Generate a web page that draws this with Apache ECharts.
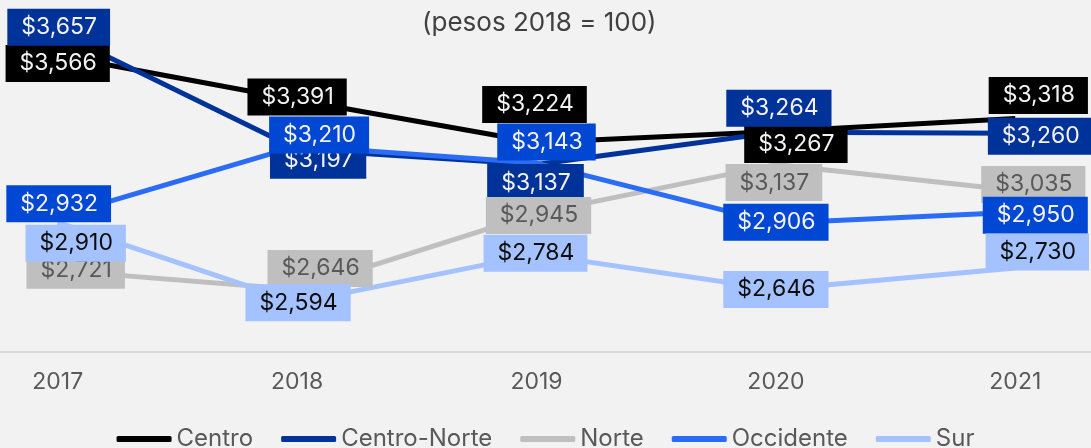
<!DOCTYPE html>
<html>
<head>
<meta charset="utf-8">
<script src="https://cdn.jsdelivr.net/npm/echarts@6/dist/echarts.min.js"></script>
<style>
  html, body { margin: 0; padding: 0; background: #f2f2f2; }
  #chart { width: 1091px; height: 448px; }
</style>
</head>
<body>
<div id="chart"></div>
<script>
// categorias y valores (pesos 2018 = 100)
const years = ['2017', '2018', '2019', '2020', '2021'];
const centro = [3566, 3391, 3224, 3267, 3318];
const centroNorte = [3657, 3197, 3137, 3264, 3260];
const norte = [2721, 2646, 2945, 3137, 3035];
const occidente = [2932, 3210, 3143, 2906, 2950];
const sur = [2910, 2594, 2784, 2646, 2730];

// desplazamiento de las etiquetas para que no se encimen
const labelShift = {
  Centro: [[0, 8], [0, -3], [-2, -38], [20, 13], [23, -23]],
  'Centro-Norte': [[1, -5], [21, 11], [-1, 18], [3, -24], [25, 3]],
  Norte: [[18, 0], [23, -21], [2, 2], [-2, 18], [18, -6]],
  Occidente: [[1, -13], [22, -11], [10, -21], [0, -1], [20, 3]],
  Sur: [[18, 21], [1, 0], [-1, -1], [0, 0], [22, -16]]
};

const fmt = v => '$' + String(v).replace(/\B(?=(\d{3})+(?!\d))/g, ',');

function makeSeries(name, values, lineColor, boxColor, textColor) {
  return {
    name: name,
    type: 'line',
    data: values.map((v, i) => ({
      value: v,
      label: { offset: labelShift[name][i] }
    })),
    symbol: 'circle',
    symbolSize: 1,
    itemStyle: { color: lineColor },
    lineStyle: { color: lineColor, width: 5 },
    label: {
      show: true,
      position: 'inside',
      formatter: p => fmt(p.value),
      fontFamily: 'Inter',
      fontSize: 23,
      color: textColor,
      backgroundColor: boxColor,
      padding: [5, 13, 5, 14],
      lineHeight: 27
    },
    emphasis: { disabled: true },
    animation: false
  };
}

const chart = echarts.init(document.getElementById('chart'));
chart.setOption({
  backgroundColor: '#f2f2f2',
  textStyle: { fontFamily: 'Inter' },
  title: {
    text: '(pesos 2018 = 100)',
    left: 417,
    top: 5,
    textStyle: { fontFamily: 'Inter', fontSize: 26, fontWeight: 'normal', color: '#404040' }
  },
  legend: {
    bottom: -8,
    left: 'center',
    icon: 'roundRect',
    itemWidth: 55,
    itemHeight: 6,
    itemGap: 28,
    textStyle: { fontFamily: 'Inter', fontSize: 24, color: '#595959' },
    data: ['Centro', 'Centro-Norte', 'Norte', 'Occidente', 'Sur']
  },
  // la categoria ocupa 239.5 px; la linea del eje cubre todo el ancho
  grid: { left: -62, right: -44, top: -4, bottom: 96, outerBoundsMode: 'none' },
  xAxis: {
    type: 'category',
    data: years,
    boundaryGap: true,
    axisLine: { lineStyle: { color: '#d9d9d9', width: 2 } },
    axisTick: { show: false },
    axisLabel: { fontFamily: 'Inter', fontSize: 23, color: '#595959', margin: 19 }
  },
  yAxis: {
    type: 'value',
    min: 2400,
    max: 3800,
    show: false,
    splitLine: { show: false }
  },
  series: [
    makeSeries('Centro', centro, '#000000', '#000000', '#f2f2f2'),
    makeSeries('Centro-Norte', centroNorte, '#003399', '#003399', '#f2f2f2'),
    makeSeries('Norte', norte, '#bfbfbf', '#bfbfbf', '#595959'),
    makeSeries('Occidente', occidente, '#2a6cf6', '#0047d4', '#f2f2f2'),
    makeSeries('Sur', sur, '#a3c2ff', '#a3c2ff', '#0d0d0d')
  ]
});
</script>
</body>
</html>
